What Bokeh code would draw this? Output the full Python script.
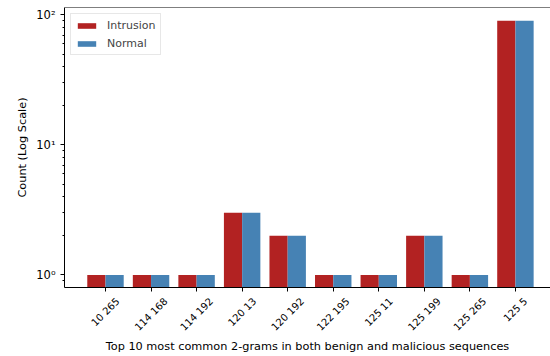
import numpy as np
from bokeh.plotting import figure
from bokeh.models import (ColumnDataSource, Range1d, FixedTicker, Legend, LegendItem, Span,
                          LinearAxis, CustomJSTickFormatter)
from bokeh.transform import dodge
from bokeh.embed import file_html
from bokeh.resources import INLINE

categories = ["10 265", "114 168", "114 192", "120 13", "120 192",
              "122 195", "125 11", "125 199", "125 265", "125 5"]
intrusion = [1, 1, 1, 3, 2, 1, 1, 2, 1, 90]
normal = [1, 1, 1, 3, 2, 1, 1, 2, 1, 90]
y_major = [1, 10, 100]
y_major_labels = ["10\u2070", "10\u00b9", "10\u00b2"]
y_minor = [0.9, 2, 3, 4, 5, 6, 7, 8, 9, 20, 30, 40, 50, 60, 70, 80, 90]

x_pos = np.arange(len(categories))
x_lo, x_hi = -0.90, 9.77
y_lo, y_hi = 0.80, 114.0

W, H = 550, 356
BL, BR, BT, BB = 64, 0, 7, 69

src = ColumnDataSource(dict(x=x_pos, intrusion=intrusion, normal=normal,
                            base=[y_lo * 0.5] * len(categories)))

FONT = "DejaVu Sans"
p = figure(width=W, height=H, y_axis_type="log", output_backend="svg",
           toolbar_location=None, x_range=Range1d(x_lo, x_hi),
           y_range=Range1d(y_lo, y_hi),
           min_border_left=BL, min_border_right=BR, min_border_top=BT,
           min_border_bottom=BB)
p.outline_line_color = None
p.grid.visible = False
p.background_fill_color = "white"
p.border_fill_color = "white"

r1 = p.vbar(x=dodge("x", -0.2), top="intrusion", bottom="base", width=0.4,
            source=src, fill_color="#b22222", line_color=None)
r2 = p.vbar(x=dodge("x", 0.2), top="normal", bottom="base", width=0.4,
            source=src, fill_color="#4682b4", line_color=None)

p.add_layout(Span(location=y_hi, dimension="width", line_color="black", line_width=1))

# x axis: ticks only
xa = p.xaxis[0]
xa.ticker = FixedTicker(ticks=list(x_pos))
xa.major_label_overrides = {int(i): "" for i in x_pos}
xa.major_label_text_font_size = "0px"
xa.major_label_standoff = 0
xa.minor_tick_line_color = None
xa.major_tick_in = 0
xa.major_tick_out = 4
xa.axis_line_color = "black"
xa.major_tick_line_color = "black"

# second x axis carrying the rotated labels, shifted so that each label is
# centred under its tick (matplotlib style)
TICK_FS = 10.0
adv = {" ": 0.318}
px_per_unit = (W - BL - BR) / (x_hi - x_lo)
label_ticks = []
for i, cat in enumerate(categories):
    w = sum(adv.get(ch, 0.636) for ch in cat) * TICK_FS
    label_ticks.append(float(x_pos[i]) + 0.3535 * w / px_per_unit)

xl = LinearAxis(ticker=FixedTicker(ticks=label_ticks),
                formatter=CustomJSTickFormatter(args=dict(labels=categories),
                                                code="return labels[index]"))
xl.axis_line_color = None
xl.major_tick_line_color = None
xl.minor_tick_line_color = None
xl.major_tick_in = 0
xl.major_tick_out = 0
xl.major_label_standoff = 8
xl.major_label_orientation = np.pi / 4
xl.major_label_text_font = FONT
xl.major_label_text_font_size = f"{int(TICK_FS)}px"
xl.major_label_text_color = "black"
xl.axis_label = "Top 10 most common 2-grams in both benign and malicious sequences"
xl.axis_label_standoff = 0
xl.axis_label_text_font = FONT
xl.axis_label_text_font_size = "11.3px"
xl.axis_label_text_font_style = "normal"
xl.axis_label_text_color = "black"
p.add_layout(xl, "below")

# y axis
ya = p.yaxis[0]
ya.ticker = FixedTicker(ticks=y_major, minor_ticks=y_minor)
ya.major_label_overrides = {k: v for k, v in zip(y_major, y_major_labels)}
ya.major_tick_in = 0
ya.major_tick_out = 4
ya.minor_tick_in = 0
ya.minor_tick_out = 2
ya.major_label_standoff = 5
ya.axis_label = "Count (Log Scale)"
ya.axis_label_standoff = 4
ya.major_label_text_font_size = "11.5px"
ya.axis_line_color = "black"
ya.major_tick_line_color = "black"
ya.minor_tick_line_color = "black"
ya.major_label_text_font = FONT
ya.major_label_text_color = "black"
ya.axis_label_text_font = FONT
ya.axis_label_text_font_size = "11.3px"
ya.axis_label_text_font_style = "normal"
ya.axis_label_text_color = "black"

legend = Legend(items=[LegendItem(label="Intrusion", renderers=[r1]),
                       LegendItem(label="Normal", renderers=[r2])],
                location="top_left")
legend.margin = 6
legend.padding = 4
legend.spacing = 4
legend.glyph_width = 23
legend.glyph_height = 7
legend.label_height = 14
legend.label_standoff = 9
legend.label_text_font = FONT
legend.label_text_font_size = "11px"
legend.border_line_color = "#d0d0d0"
legend.background_fill_alpha = 0.8
p.add_layout(legend)

open("out.html", "w").write(file_html(p, INLINE))
